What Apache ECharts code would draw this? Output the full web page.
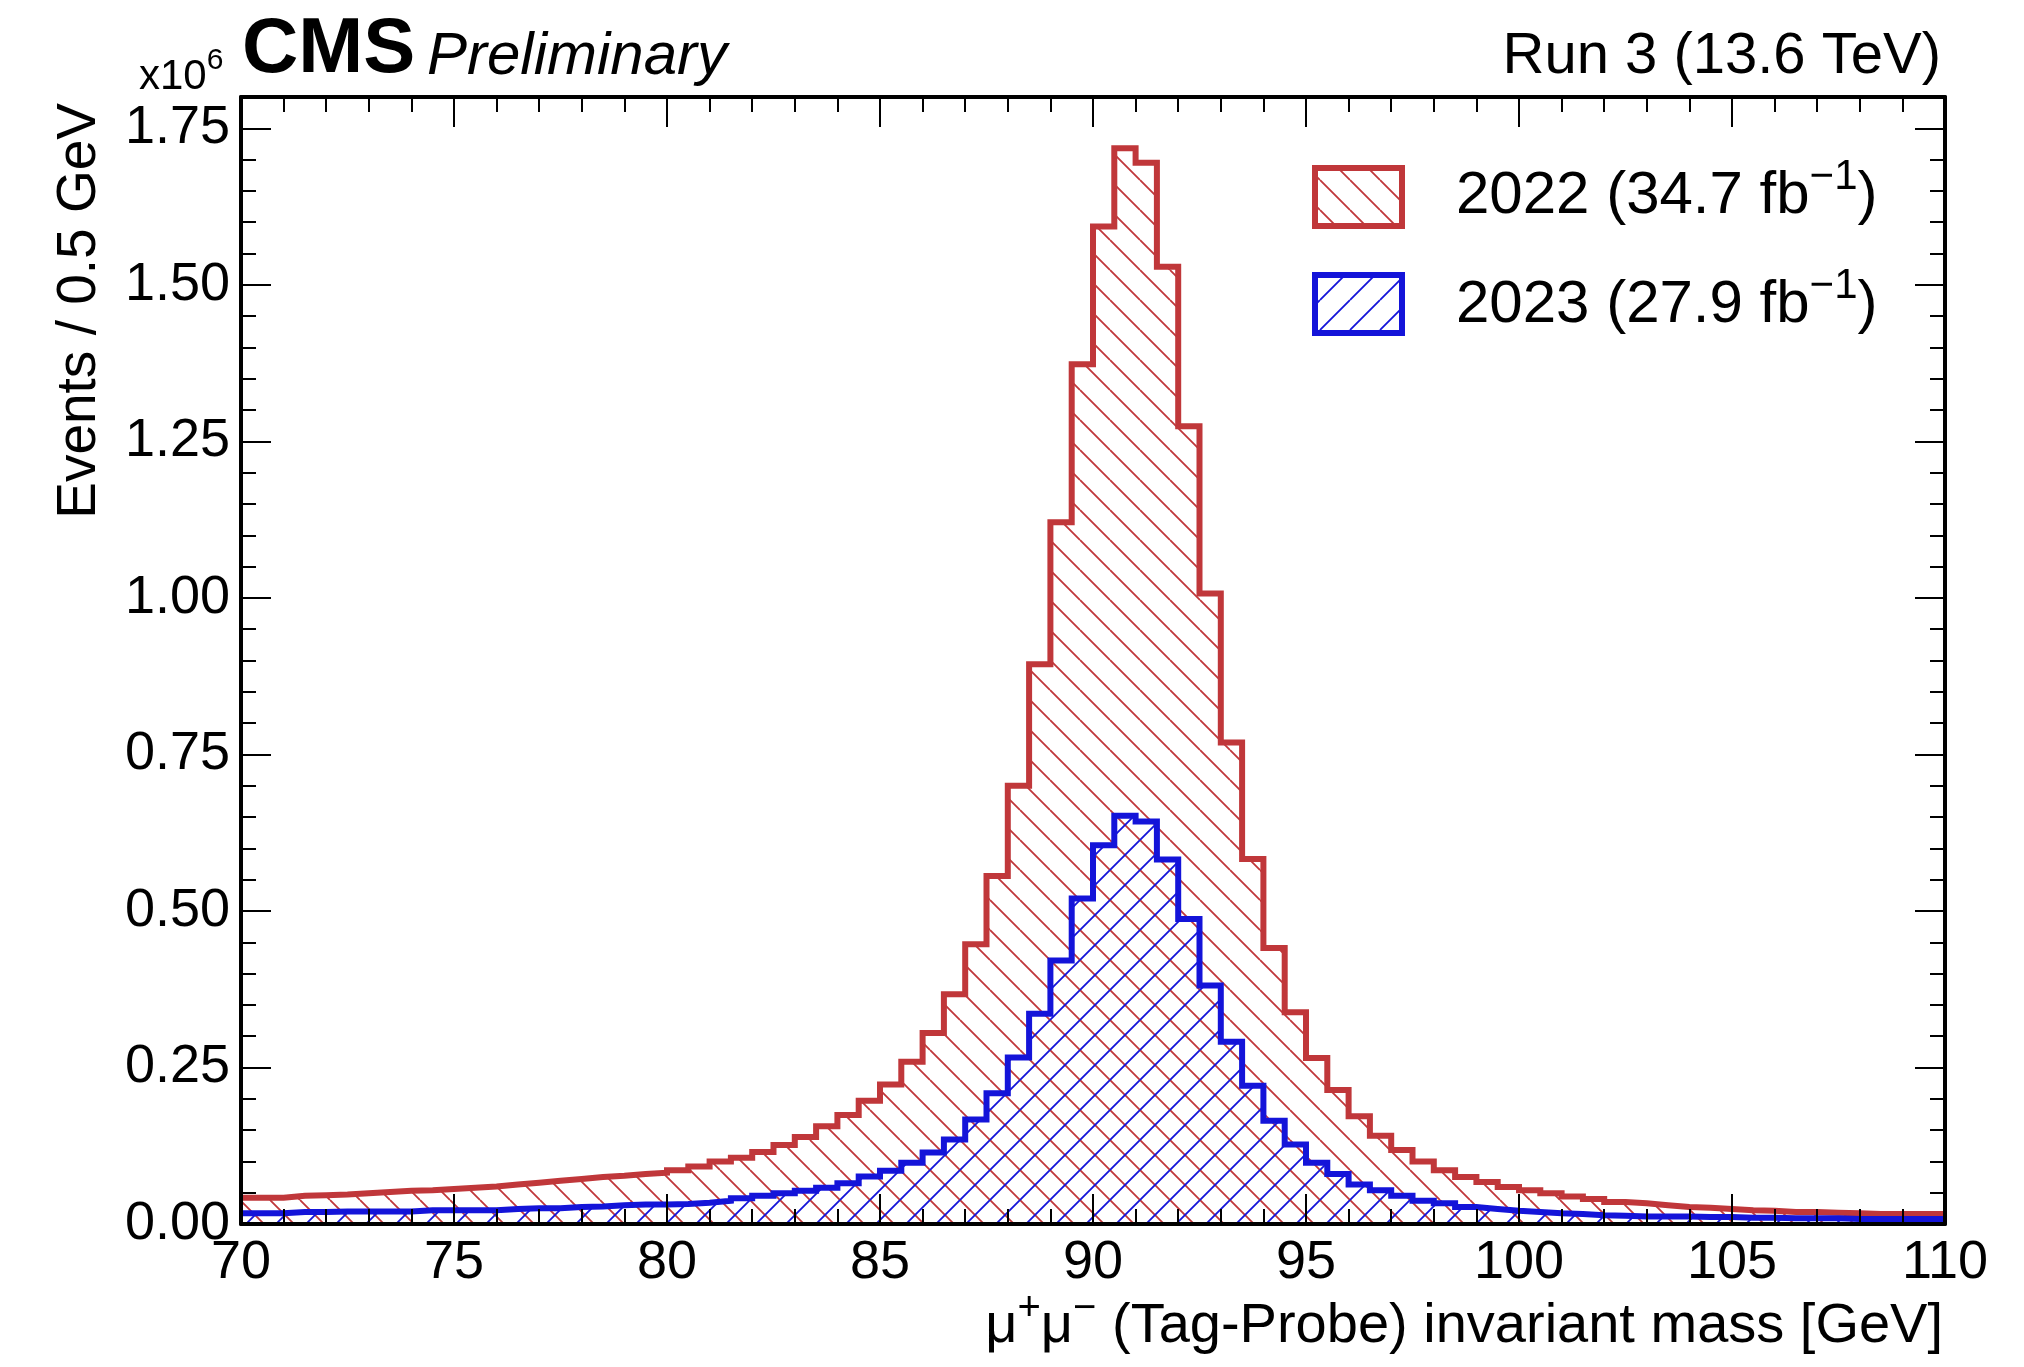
<!DOCTYPE html>
<html>
<head>
<meta charset="utf-8">
<script src="https://cdn.jsdelivr.net/npm/echarts@6/dist/echarts.min.js"></script>
<style>
html,body{margin:0;padding:0;background:#fff;}
#chart{width:2024px;height:1367px;}
</style>
</head>
<body>
<div id="chart"></div>
<script>
// ---------- DATA ----------
// Bin edges of the invariant-mass histogram [GeV] (0.5 GeV bins, 70-110)
const binEdges = [
  70.0,70.5,71.0,71.5,72.0,72.5,73.0,73.5,74.0,74.5,
  75.0,75.5,76.0,76.5,77.0,77.5,78.0,78.5,79.0,79.5,
  80.0,80.5,81.0,81.5,82.0,82.5,83.0,83.5,84.0,84.5,
  85.0,85.5,86.0,86.5,87.0,87.5,88.0,88.5,89.0,89.5,
  90.0,90.5,91.0,91.5,92.0,92.5,93.0,93.5,94.0,94.5,
  95.0,95.5,96.0,96.5,97.0,97.5,98.0,98.5,99.0,99.5,
  100.0,100.5,101.0,101.5,102.0,102.5,103.0,103.5,104.0,104.5,
  105.0,105.5,106.0,106.5,107.0,107.5,108.0,108.5,109.0,109.5,
  110.0
];
// Events / 0.5 GeV, in units of 10^6
const events2022 = [
  0.042,0.042,0.045,0.046,0.047,0.049,0.051,0.053,0.054,0.056,
  0.058,0.060,0.063,0.066,0.069,0.072,0.075,0.077,0.080,0.082,
  0.086,0.092,0.100,0.106,0.115,0.126,0.139,0.156,0.174,0.197,
  0.223,0.259,0.305,0.367,0.447,0.556,0.700,0.894,1.121,1.373,
  1.593,1.718,1.695,1.529,1.274,1.007,0.769,0.583,0.441,0.338,
  0.265,0.214,0.172,0.141,0.118,0.100,0.086,0.075,0.067,0.059,
  0.054,0.049,0.044,0.040,0.035,0.033,0.030,0.027,0.026,0.024,
  0.022,0.021,0.019,0.019,0.018,0.017,0.016,0.016,0.016,0.016
];
const events2023 = [
  0.017,0.017,0.019,0.019,0.020,0.020,0.020,0.020,0.022,0.022,
  0.022,0.022,0.024,0.025,0.025,0.027,0.028,0.030,0.031,0.031,
  0.032,0.034,0.037,0.041,0.045,0.049,0.053,0.058,0.065,0.076,
  0.085,0.098,0.114,0.135,0.167,0.209,0.266,0.336,0.421,0.520,
  0.605,0.652,0.643,0.582,0.487,0.381,0.291,0.221,0.165,0.127,
  0.098,0.080,0.063,0.054,0.045,0.037,0.033,0.027,0.024,0.021,
  0.019,0.017,0.016,0.014,0.013,0.012,0.012,0.012,0.011,0.011,
  0.010,0.010,0.009,0.009,0.009,0.008,0.008,0.008,0.008,0.008
];
const seriesNames = ['2022', '2023'];
const lumiLabels = ['34.7', '27.9'];
const xTickValues = [70, 75, 80, 85, 90, 95, 100, 105, 110];
const yTickLabels = ['0.00','0.25','0.50','0.75','1.00','1.25','1.50','1.75'];

// ---------- STYLE ----------
const RED = '#c0373a';
const BLUE = '#1414d9';
const FONT = "'Liberation Sans', Arial, Helvetica, sans-serif";

function hatch(color, dir) {
  const s = 30;
  const c = document.createElement('canvas');
  c.width = s; c.height = s;
  const g = c.getContext('2d');
  g.strokeStyle = color;
  g.lineWidth = 1.8;
  g.beginPath();
  for (let k = -1; k <= 1; k++) {
    if (dir === 'back') { g.moveTo(0, k * s); g.lineTo(s, s + k * s); }
    else { g.moveTo(0, s + k * s); g.lineTo(s, k * s); }
  }
  g.stroke();
  return { image: c, repeat: 'repeat' };
}
const redHatch = hatch(RED, 'back');
const blueHatch = hatch(BLUE, 'fwd');

function toSteps(vals) {
  return binEdges.map((e, i) => [e, vals[Math.min(i, vals.length - 1)]]);
}

const xMin = binEdges[0], xMax = binEdges[binEdges.length - 1];
const yMax = 1.8;

function xAxisCfg(pos, showLabel) {
  return {
    type: 'value', min: xMin, max: xMax, interval: xTickValues[1] - xTickValues[0],
    position: pos, z: 10,
    axisLine: { show: true, onZero: false, lineStyle: { color: '#000', width: 4 } },
    axisTick: { show: true, inside: true, length: 30, lineStyle: { color: '#000', width: 2 } },
    minorTick: { show: true, splitNumber: 5, length: 15, lineStyle: { color: '#000', width: 2 } },
    splitLine: { show: false }, minorSplitLine: { show: false },
    axisLabel: { show: showLabel, margin: 12, fontSize: 54, color: '#000', fontFamily: FONT,
      formatter: v => String(v) }
  };
}
function yAxisCfg(pos, major, showLabel) {
  return {
    type: 'value', min: 0, max: yMax, interval: major ? 0.25 : 0.05,
    position: pos, z: 10,
    axisLine: { show: major, onZero: false, lineStyle: { color: '#000', width: 4 } },
    axisTick: { show: true, inside: true, length: major ? 30 : 15, lineStyle: { color: '#000', width: 2 } },
    splitLine: { show: false },
    axisLabel: { show: showLabel, margin: 11, fontSize: 54, color: '#000', fontFamily: FONT,
      formatter: v => { const i = Math.round(v / 0.25); return (Math.abs(v - i * 0.25) < 1e-6 && i < yTickLabels.length) ? yTickLabels[i] : ''; } }
  };
}

function supStyles(main, sup, lh, raise) {
  return {
    n: { fontSize: main, fontFamily: FONT, color: '#000', lineHeight: lh, verticalAlign: 'bottom' },
    s: { fontSize: sup, fontFamily: FONT, color: '#000', lineHeight: sup, verticalAlign: 'top', padding: [raise, 0, 0, 0] }
  };
}
const legendRich = supStyles(60, 42, 84, 14);
const xTitleRich = supStyles(56, 40, 80, 14);

const chart = echarts.init(document.getElementById('chart'), null, { renderer: 'canvas' });
chart.setOption({
  animation: false,
  backgroundColor: '#fff',
  grid: { left: 241, right: 79, top: 97, bottom: 143, containLabel: false, outerBoundsMode: 'none' },
  xAxis: [ xAxisCfg('bottom', true), xAxisCfg('top', false) ],
  yAxis: [ yAxisCfg('left', true, true), yAxisCfg('left', false, false),
           yAxisCfg('right', true, false), yAxisCfg('right', false, false) ],
  series: [
    { type: 'line', name: seriesNames[0], data: toSteps(events2022), step: 'end', symbol: 'none',
      xAxisIndex: 0, yAxisIndex: 0, silent: true, z: 3,
      lineStyle: { color: RED, width: 6, join: 'miter', cap: 'butt' },
      areaStyle: { color: redHatch, opacity: 1, origin: 'start' } },
    { type: 'line', name: seriesNames[1], data: toSteps(events2023), step: 'end', symbol: 'none',
      xAxisIndex: 0, yAxisIndex: 0, silent: true, z: 4,
      lineStyle: { color: BLUE, width: 6, join: 'miter', cap: 'butt' },
      areaStyle: { color: blueHatch, opacity: 1, origin: 'start' } }
  ],
  graphic: [
    { type: 'text', x: 242, y: 50, style: { text: 'CMS', fontSize: 78, fontWeight: 'bold', fontFamily: FONT, fill: '#000', align: 'left', verticalAlign: 'middle' } },
    { type: 'text', x: 427, y: 57, style: { text: 'Preliminary', fontSize: 60, fontStyle: 'italic', fontFamily: FONT, fill: '#000', align: 'left', verticalAlign: 'middle' } },
    { type: 'text', x: 1941, y: 57, style: { text: 'Run 3 (13.6 TeV)', fontSize: 58, fontFamily: FONT, fill: '#000', align: 'right', verticalAlign: 'middle' } },
    { type: 'text', x: 139, y: 70, style: { text: '{a|x10}{b|6}', fontFamily: FONT, fill: '#000', align: 'left', verticalAlign: 'middle',
        rich: { a: { fontSize: 42, fontFamily: FONT, lineHeight: 56, verticalAlign: 'bottom' }, b: { fontSize: 30, fontFamily: FONT, lineHeight: 30, verticalAlign: 'top', padding: [4, 0, 0, 0] } } } },
    { type: 'text', x: 80, y: 103, rotation: Math.PI / 2, style: { text: 'Events / 0.5 GeV', fontSize: 55, fontFamily: FONT, fill: '#000', align: 'right', verticalAlign: 'middle' } },
    { type: 'text', x: 1943, y: 1315, style: { text: '{n|μ}{s|+}{n|μ}{s|−}{n| (Tag-Probe) invariant mass [GeV]}', fill: '#000', align: 'right', verticalAlign: 'middle', rich: xTitleRich } },
    // legend
    { type: 'rect', shape: { x: 1315, y: 168, width: 87, height: 58 }, style: { fill: redHatch, stroke: RED, lineWidth: 6 } },
    { type: 'rect', shape: { x: 1315, y: 275, width: 87, height: 58 }, style: { fill: blueHatch, stroke: BLUE, lineWidth: 6 } },
    { type: 'text', x: 1456, y: 184, style: { text: '{n|' + seriesNames[0] + ' (' + lumiLabels[0] + ' fb}{s|−1}{n|)}', fill: '#000', align: 'left', verticalAlign: 'middle', rich: legendRich } },
    { type: 'text', x: 1456, y: 293, style: { text: '{n|' + seriesNames[1] + ' (' + lumiLabels[1] + ' fb}{s|−1}{n|)}', fill: '#000', align: 'left', verticalAlign: 'middle', rich: legendRich } }
  ]
});
</script>
</body>
</html>
